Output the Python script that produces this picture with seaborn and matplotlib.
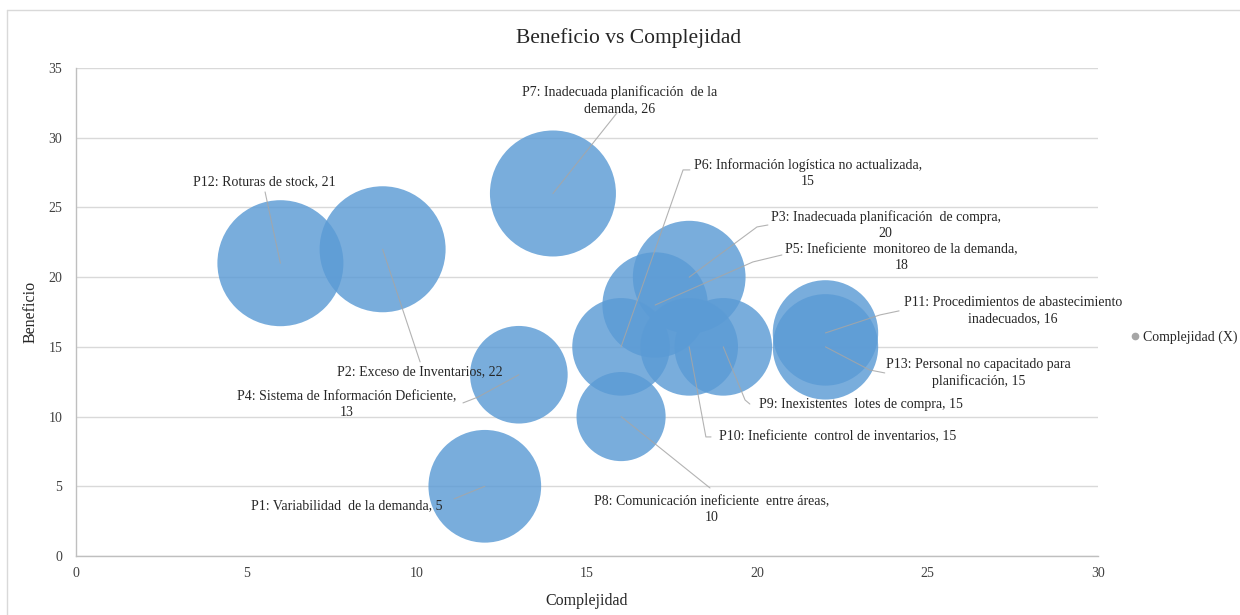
import matplotlib
matplotlib.use("Agg")
import matplotlib.pyplot as plt
from matplotlib.lines import Line2D
import numpy as np
import pandas as pd
import seaborn as sns

# --- data -----------------------------------------------------------------
problemas = [
    "P1: Variabilidad  de la demanda",
    "P2: Exceso de Inventarios",
    "P3: Inadecuada planificación  de compra",
    "P4: Sistema de Información Deficiente",
    "P5: Ineficiente  monitoreo de la demanda",
    "P6: Información logística no actualizada",
    "P7: Inadecuada planificación  de la\ndemanda",
    "P8: Comunicación ineficiente  entre áreas",
    "P9: Inexistentes  lotes de compra",
    "P10: Ineficiente  control de inventarios",
    "P11: Procedimientos de abastecimiento\ninadecuados",
    "P12: Roturas de stock",
    "P13: Personal no capacitado para\nplanificación",
]
complejidad = [12, 9, 18, 13, 17, 16, 14, 16, 19, 18, 22, 6, 22]
beneficio = [5, 22, 20, 13, 18, 15, 26, 10, 15, 15, 16, 21, 15]
tamano = [8, 10, 8, 6, 7, 6, 10, 5, 6, 6, 7, 10, 7]

# --- label layout (text centre, leader-line start points) ------------------
label_pos = [
    (7.95, 3.59), (10.10, 13.20), (23.77, 23.74), (7.95, 10.83),
    (24.24, 21.38), (21.49, 27.47), (15.97, 32.70), (18.67, 3.30),
    (23.04, 10.90), (22.37, 8.54), (27.50, 17.58), (5.52, 26.83),
    (26.50, 13.13),
]
value_on_new_line = [False, False, True, True, True, True, False, True,
                     False, False, False, False, False]
leader_pts = [
    [(11.10, 4.10)],
    [(10.10, 13.92)],
    [(20.31, 23.74), (19.99, 23.60)],
    [(11.36, 10.98), (11.80, 11.40)],
    [(20.72, 21.59), (19.87, 21.09)],
    [(18.02, 27.69), (17.82, 27.69)],
    [(15.88, 31.78)],
    [(18.61, 4.88)],
    [(19.78, 10.90), (19.64, 11.19)],
    [(18.64, 8.54), (18.49, 8.54)],
    [(24.16, 17.58), (23.60, 17.29)],
    [(5.55, 26.11)],
    [(23.74, 13.13), (23.30, 13.34)],
]

df = pd.DataFrame({
    "Problema": problemas,
    "Complejidad": complejidad,
    "Beneficio": beneficio,
    "Tamaño": tamano,
})

# --- style ----------------------------------------------------------------
sns.set_style("white")
plt.rcParams["font.family"] = ["Liberation Serif", "DejaVu Serif"]

W, H = 1240, 615
fig = plt.figure(figsize=(W / 100, H / 100), dpi=100)
ax = fig.add_axes([76 / W, 1 - 556 / H, (1098 - 76) / W, (556 - 68) / H])

# bubble area proportional to size (size 10 -> ~126 px diameter)
s_full = (126 * 0.72) ** 2
sns.scatterplot(
    data=df, x="Complejidad", y="Beneficio", size="Tamaño",
    sizes=(s_full * 0.5, s_full), size_norm=(5, 10),
    color="#5B9BD5", alpha=0.82, linewidth=0, legend=False,
    ax=ax, zorder=3,
)

ax.set_xlim(0, 30)
ax.set_ylim(0, 35)
ax.set_xticks(np.arange(0, 31, 5))
ax.set_yticks(np.arange(0, 36, 5))
ax.yaxis.grid(True, color="#D9D9D9", linewidth=1.0, zorder=0)
ax.xaxis.grid(False)
ax.set_axisbelow(True)
for side in ("top", "right"):
    ax.spines[side].set_visible(False)
for side in ("left", "bottom"):
    ax.spines[side].set_color("#BFBFBF")
    ax.spines[side].set_linewidth(1.0)
ax.tick_params(axis="both", direction="out", length=4, width=1,
               color="#BFBFBF", labelsize=10, labelcolor="#404040", pad=4)
ax.tick_params(axis="y", pad=6)

ax.set_xlabel("Complejidad", fontsize=11.5, color="#262626")
ax.set_ylabel("Beneficio", fontsize=11.5, color="#262626")
ax.xaxis.set_label_coords(0.5, -0.075)
ax.yaxis.set_label_coords(-0.037, 0.5)

fig.text(0.507, 1 - 38 / H, "Beneficio vs Complejidad", ha="center",
         va="center", fontsize=15.5, color="#262626")

# --- labels with leader lines ---------------------------------------------
for i, row in df.iterrows():
    sep = ",\n" if value_on_new_line[i] else ", "
    txt = f"{row['Problema']}{sep}{row['Beneficio']}"
    lx, ly = label_pos[i]
    ax.text(lx, ly, txt, ha="center", va="center", fontsize=10,
            color="#262626", linespacing=1.3, zorder=6)
    pts = leader_pts[i] + [(row["Complejidad"], row["Beneficio"])]
    xs, ys = zip(*pts)
    ax.plot(xs, ys, color="#A6A6A6", linewidth=0.8, alpha=0.85, zorder=5)

# --- legend -----------------------------------------------------------------
handle = Line2D([], [], marker="o", linestyle="", color="#A6A6A6",
                markersize=4.5)
leg = ax.legend([handle], ["Complejidad (X)"], loc="center left",
                bbox_to_anchor=(1124 / W, 1 - 337 / H),
                bbox_transform=fig.transFigure, frameon=False,
                handlelength=0.6, handletextpad=0.3, borderpad=0,
                fontsize=10)
for t in leg.get_texts():
    t.set_color("#262626")

# chart frame (top and left edges)
fig.add_artist(Line2D([7 / W, 1], [1 - 10 / H, 1 - 10 / H],
                      transform=fig.transFigure, color="#D9D9D9", lw=1))
fig.add_artist(Line2D([7 / W, 7 / W], [0, 1 - 10 / H],
                      transform=fig.transFigure, color="#D9D9D9", lw=1))

fig.savefig("out.png", dpi=100, facecolor="white")
